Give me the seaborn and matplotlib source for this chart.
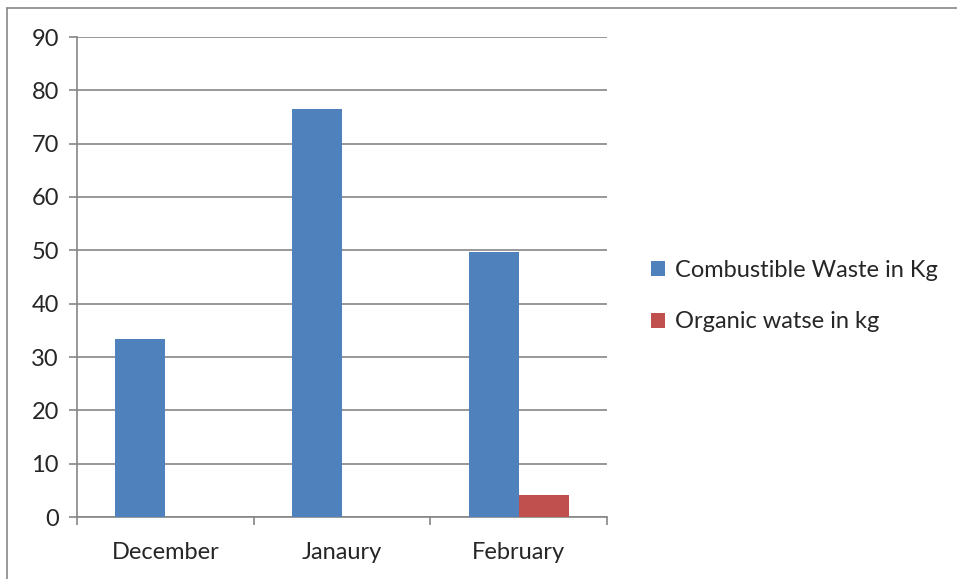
import numpy as np
import pandas as pd
import matplotlib
matplotlib.use("Agg")
import matplotlib.pyplot as plt
from matplotlib.lines import Line2D
from matplotlib.patches import Patch
import seaborn as sns

# Data
months = ["December", "Janaury", "February"]
combustible = [33.4, 76.5, 49.7]
organic = [0, 0, 4.1]
series_names = ["Combustible Waste in Kg", "Organic watse in kg"]
colors = ["#4F81BD", "#C0504D"]

df = pd.DataFrame({
    "month": months * 2,
    "value": combustible + organic,
    "series": [series_names[0]] * 3 + [series_names[1]] * 3,
})

sns.set_style("white")
plt.rcParams["font.family"] = ["Lato", "DejaVu Sans"]

W, H = 957, 579
fig = plt.figure(figsize=(W / 100, H / 100), dpi=100)
ax = fig.add_axes([77 / W, (H - 517) / H, (607 - 77) / W, (517 - 37) / H])

sns.barplot(data=df, x="month", y="value", hue="series", palette=colors,
            width=0.565, saturation=1, ax=ax, legend=False, zorder=3, linewidth=0)

grid_col = "#868686"
ax.set_ylim(0, 90)
ax.set_xlim(-0.5, 2.5)
ax.set_yticks(np.arange(0, 91, 10))
ax.yaxis.grid(True, color=grid_col, linewidth=1.2, zorder=0)
ax.set_axisbelow(True)
for s in ["top", "right"]:
    ax.spines[s].set_visible(False)
for s in ["left", "bottom"]:
    ax.spines[s].set_color(grid_col)
    ax.spines[s].set_linewidth(1.2)

ax.tick_params(axis="y", left=True, length=6, width=1.2, color=grid_col, labelsize=17, pad=7)
ax.tick_params(axis="x", which="major", bottom=True, length=0, labelsize=17, pad=18)
ax.set_xticks([-0.5, 0.5, 1.5, 2.5], minor=True)
ax.tick_params(axis="x", which="minor", bottom=True, length=6, width=1.2, color=grid_col)
ax.set_xlabel("")
ax.set_ylabel("")

handles = [Patch(facecolor=c, edgecolor="none") for c in colors]
fig.legend(handles, series_names, loc="center left", bbox_to_anchor=(630 / W, 1 - 296 / H),
           frameon=False, fontsize=17, handlelength=0.6, handleheight=0.6,
           handletextpad=0.4, labelspacing=1.3)

# outer chart frame
fig.add_artist(Line2D([7.5 / W, 7.5 / W], [0, 1 - 7.5 / H], color="#888888", linewidth=1.2))
fig.add_artist(Line2D([7.5 / W, 1], [1 - 7.5 / H, 1 - 7.5 / H], color="#888888", linewidth=1.2))

fig.savefig("out.png", dpi=100)
